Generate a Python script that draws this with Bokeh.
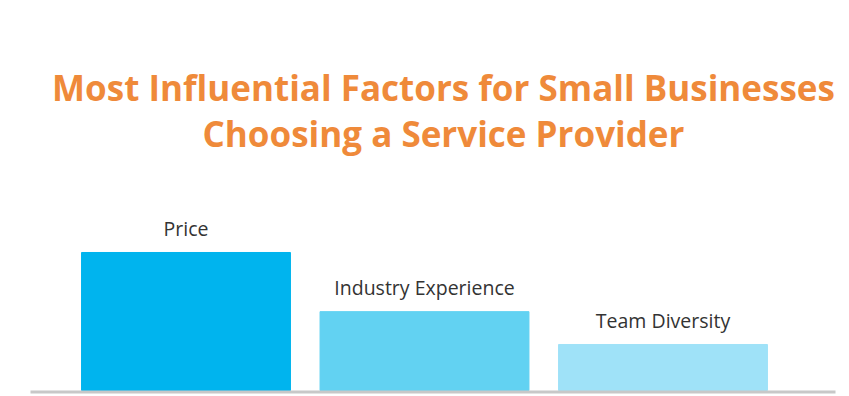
from bokeh.plotting import figure
from bokeh.models import Range1d, Label, BoxAnnotation, ColumnDataSource
from bokeh.core.properties import value
from bokeh.embed import file_html
from bokeh.resources import INLINE

# Data
categories = ["Price", "Industry Experience", "Team Diversity"]
values = [42, 24, 14]
colors = ["#00B4EE", "#62D2F2", "#9FE2F8"]
title_lines = ["Most Influential Factors for Small Businesses",
               "Choosing a Service Provider"]

W, H = 849, 396
p = figure(width=W, height=H, output_backend="svg", toolbar_location=None,
           x_range=Range1d(-0.7778, 2.7820), y_range=Range1d(-1.826, 118.69),
           min_border=0, min_border_left=0, min_border_right=0,
           min_border_top=0, min_border_bottom=0)
p.axis.visible = False
p.grid.visible = False
p.outline_line_color = None
p.background_fill_color = "white"
p.border_fill_color = "white"

src = ColumnDataSource(dict(x=list(range(len(categories))), top=values,
                            color=colors, label=categories))
p.vbar(x="x", top="top", bottom=0, width=0.876, color="color", source=src)

p.text(x="x", y="top", text="label", source=src, text_align="center",
       text_baseline="alphabetic", y_offset=-24,
       text_font=value("Open Sans"), text_font_size="19.5px", text_color="#333333")

# baseline
p.add_layout(BoxAnnotation(left=30, right=835, left_units="screen", right_units="screen",
                           bottom=-0.913, top=0, fill_color="#C8C8C8", fill_alpha=1,
                           line_color=None))

for txt, yy in zip(title_lines, [92.21, 78.21]):
    p.add_layout(Label(x=443, x_units="screen", y=yy, text=txt, text_align="center",
                       text_baseline="middle", text_font="Open Sans", text_font_style="bold",
                       text_font_size="35px", text_color="#EF8A3A"))

open("out.html", "w").write(file_html(p, INLINE))
